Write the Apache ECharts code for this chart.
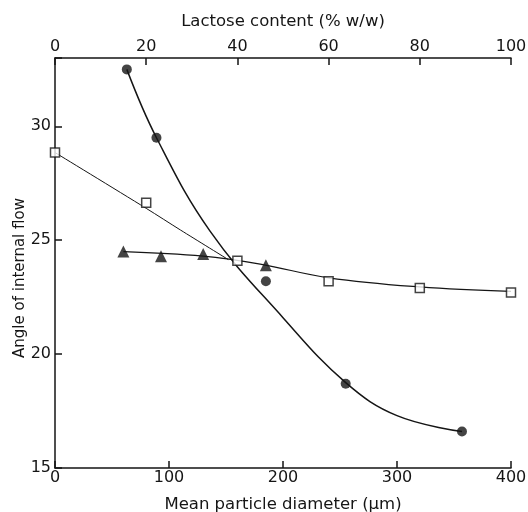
<!DOCTYPE html>
<html>
<head>
<meta charset="utf-8">
<script src="https://cdn.jsdelivr.net/npm/echarts@6/dist/echarts.min.js"></script>
<style>
  html, body { margin: 0; padding: 0; background: #fff; }
  #chart { width: 528px; height: 512px; }
</style>
</head>
<body>
<div id="chart"></div>
<script>
// Mean particle diameter (µm) and angle of internal flow (degrees)
const circleX = [63, 89, 185, 255, 357];
const circleY = [32.5, 29.5, 23.2, 18.7, 16.6];

const squareX = [0, 80, 160, 240, 320, 400];
const squareY = [28.85, 26.65, 24.1, 23.2, 22.9, 22.7];

const triangleX = [60, 93, 130, 185];
const triangleY = [24.5, 24.3, 24.4, 23.9];

// hand-drawn fitted curves, traced point by point
const circleCurveX = [63, 89, 136, 200, 255, 300, 357];
const circleCurveY = [32.5, 29.5, 25.4, 21.6, 18.75, 17.3, 16.6];

const squareCurveX = [0, 80, 110, 152];
const squareCurveY = [28.85, 26.4, 25.45, 24.15];

const flatCurveX = [60, 130, 180, 240, 320, 400];
const flatCurveY = [24.5, 24.3, 23.95, 23.35, 22.95, 22.75];

const bottomTicks = [0, 100, 200, 300, 400];
const topTicks = [0, 20, 40, 60, 80, 100];
const leftTicks = [15, 20, 25, 30];

const pairs = (xs, ys) => xs.map((x, i) => [x, ys[i]]);

const FONT = 'DejaVu Sans';
const INK = '#151515';

const chart = echarts.init(document.getElementById('chart'), null, { renderer: 'canvas' });

chart.setOption({
  backgroundColor: '#fff',
  animation: false,
  grid: { left: 55, right: 17, top: 58, bottom: 44, containLabel: false, outerBoundsMode: 'none' },
  xAxis: [
    {
      type: 'value', position: 'bottom',
      min: bottomTicks[0], max: bottomTicks[bottomTicks.length - 1], interval: 100,
      name: 'Mean particle diameter (µm)', nameLocation: 'middle', nameGap: 28,
      nameMoveOverlap: false,
      nameTextStyle: { fontFamily: FONT, fontSize: 16.5, color: INK },
      axisLine: { show: true, lineStyle: { color: INK, width: 1.5 } },
      axisTick: { show: true, inside: true, length: 7, lineStyle: { color: INK, width: 1.5 } },
      axisLabel: { fontFamily: FONT, fontSize: 16, color: INK, margin: 2 },
      splitLine: { show: false }
    },
    {
      type: 'value', position: 'top',
      min: topTicks[0], max: topTicks[topTicks.length - 1], interval: 20,
      name: 'Lactose content (% w/w)', nameLocation: 'middle', nameGap: 28,
      nameMoveOverlap: false,
      nameTextStyle: { fontFamily: FONT, fontSize: 16.5, color: INK },
      axisLine: { show: true, lineStyle: { color: INK, width: 1.5 } },
      axisTick: { show: true, inside: true, length: 7, lineStyle: { color: INK, width: 1.5 } },
      axisLabel: { fontFamily: FONT, fontSize: 16, color: INK, margin: 3 },
      splitLine: { show: false }
    }
  ],
  yAxis: {
    type: 'value',
    min: leftTicks[0], max: 33, interval: 5,
    name: 'Angle of internal flow', nameLocation: 'middle', nameGap: 27,
    nameMoveOverlap: false,
    nameTextStyle: { fontFamily: FONT, fontSize: 15, color: INK, padding: [0, 30, 0, 0] },
    axisLine: { show: true, lineStyle: { color: INK, width: 1.5 } },
    axisTick: { show: true, inside: true, length: 7, lineStyle: { color: INK, width: 1.5 } },
    axisLabel: {
      fontFamily: FONT, fontSize: 16, color: INK, margin: 4,
      formatter: v => (leftTicks.includes(v) ? String(v) : '')
    },
    splitLine: { show: false }
  },
  series: [
    {
      type: 'line', smooth: 0.4, symbol: 'none', xAxisIndex: 0,
      data: pairs(circleCurveX, circleCurveY),
      lineStyle: { color: INK, width: 1.5 }, z: 2
    },
    {
      type: 'line', smooth: 0.3, symbol: 'none', xAxisIndex: 0,
      data: pairs(squareCurveX, squareCurveY),
      lineStyle: { color: INK, width: 1 }, z: 2
    },
    {
      type: 'line', smooth: 0.4, symbol: 'none', xAxisIndex: 0,
      data: pairs(flatCurveX, flatCurveY),
      lineStyle: { color: INK, width: 1.2 }, z: 2
    },
    {
      type: 'scatter', xAxisIndex: 0, symbol: 'circle', symbolSize: 10,
      data: pairs(circleX, circleY),
      itemStyle: { color: INK }, z: 5
    },
    {
      type: 'scatter', xAxisIndex: 0, symbol: 'rect', symbolSize: 9,
      data: pairs(squareX, squareY),
      itemStyle: { color: '#fff', borderColor: INK, borderWidth: 1.5 }, z: 5
    },
    {
      type: 'scatter', xAxisIndex: 0, symbol: 'triangle', symbolSize: 12,
      data: pairs(triangleX, triangleY),
      itemStyle: { color: INK }, z: 5
    }
  ]
});
</script>
</body>
</html>
